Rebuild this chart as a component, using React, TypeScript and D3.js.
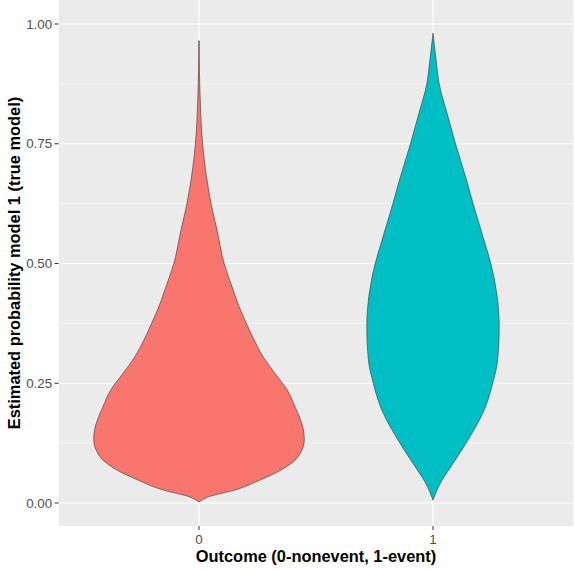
import React from "react";
import * as d3 from "d3";

const categories = ["0", "1"];
const fills = ["#F8766D", "#00BFC4"];

// violin profile for outcome 0: estimated probability value and relative half-width
const redValues = [0.002, 0.0125, 0.027, 0.048, 0.069, 0.09, 0.11, 0.132, 0.155, 0.175, 0.2, 0.236, 0.27, 0.305, 0.34, 0.376, 0.41, 0.445, 0.501, 0.57, 0.62, 0.674, 0.72, 0.779, 0.82, 0.868, 0.9, 0.965];
const redWidths = [0, 0.086, 0.34, 0.58, 0.78, 0.914, 0.976, 1.0, 0.99, 0.962, 0.914, 0.838, 0.724, 0.61, 0.524, 0.448, 0.381, 0.324, 0.238, 0.171, 0.119, 0.076, 0.048, 0.024, 0.015, 0.008, 0.004, 0.002];

// violin profile for outcome 1
const cyanValues = [0.006, 0.042, 0.075, 0.125, 0.194, 0.25, 0.299, 0.368, 0.438, 0.493, 0.555, 0.625, 0.674, 0.75, 0.814, 0.877, 0.918, 0.981];
const cyanWidths = [0, 0.071, 0.167, 0.314, 0.486, 0.567, 0.614, 0.629, 0.605, 0.557, 0.476, 0.381, 0.319, 0.214, 0.133, 0.057, 0.033, 0];

const yTicks = [0, 0.25, 0.5, 0.75, 1.0];
const yMinor = [0.125, 0.375, 0.625, 0.875];

const W = 574;
const H = 569;
const panel = { left: 58.6, right: 573.4, top: 0, bottom: 526 };

export default function App() {
  const x = d3.scaleBand<string>().domain(categories).range([panel.left, panel.right]).paddingInner(0).paddingOuter(0.1);
  const y = d3.scaleLinear().domain([0, 1]).range([503, 24]);
  const step = x.step();
  const wScale = d3.scaleLinear().domain([0, 1]).range([0, 0.45 * step]);

  const series = [
    { cat: categories[0], vals: redValues, ws: redWidths, fill: fills[0] },
    { cat: categories[1], vals: cyanValues, ws: cyanWidths, fill: fills[1] },
  ];

  const tickFont = "'Liberation Sans', Arial, sans-serif";

  return (
    <svg width={W} height={H} style={{ position: "absolute", left: 0, top: 0, background: "#fff" }}>
      <rect x={panel.left} y={panel.top} width={panel.right - panel.left} height={panel.bottom - panel.top} fill="#EBEBEB" />
      {yMinor.map((t) => (
        <line key={"mn" + t} x1={panel.left} x2={panel.right} y1={y(t)} y2={y(t)} stroke="#fff" strokeWidth={0.6} />
      ))}
      {yTicks.map((t) => (
        <line key={"mj" + t} x1={panel.left} x2={panel.right} y1={y(t)} y2={y(t)} stroke="#fff" strokeWidth={1.2} />
      ))}
      {categories.map((c) => {
        const cx = (x(c) as number) + x.bandwidth() / 2;
        return <line key={"vx" + c} x1={cx} x2={cx} y1={panel.top} y2={panel.bottom} stroke="#fff" strokeWidth={1.2} />;
      })}
      {series.map((s) => {
        const cx = (x(s.cat) as number) + x.bandwidth() / 2;
        const pts = s.vals.map((v, i) => ({ v, w: s.ws[i] }));
        const area = d3
          .area<{ v: number; w: number }>()
          .y((d) => y(d.v))
          .x0((d) => cx - wScale(d.w))
          .x1((d) => cx + wScale(d.w))
          .curve(d3.curveMonotoneY);
        return <path key={"v" + s.cat} d={area(pts) || ""} fill={s.fill} stroke="#333" strokeWidth={0.6} />;
      })}
      {/* y axis ticks */}
      {yTicks.map((t) => (
        <g key={"yt" + t}>
          <line x1={panel.left - 4} x2={panel.left} y1={y(t)} y2={y(t)} stroke="#333" strokeWidth={1} />
          <text x={panel.left - 6.5} y={y(t)} dy="0.35em" textAnchor="end" fontFamily={tickFont} fontSize={13.3} fill="#4D4D4D">
            {t.toFixed(2)}
          </text>
        </g>
      ))}
      {/* x axis ticks */}
      {categories.map((c) => {
        const cx = (x(c) as number) + x.bandwidth() / 2;
        return (
          <g key={"xt" + c}>
            <line x1={cx} x2={cx} y1={panel.bottom} y2={panel.bottom + 4} stroke="#333" strokeWidth={1} />
            <text x={cx} y={panel.bottom + 17.5} textAnchor="middle" fontFamily={tickFont} fontSize={13.3} fill="#4D4D4D">
              {c}
            </text>
          </g>
        );
      })}
      <text x={(panel.left + panel.right) / 2} y={562} textAnchor="middle" fontFamily={tickFont} fontWeight="bold" fontSize={16.4} fill="#000">
        Outcome (0-nonevent, 1-event)
      </text>
      <text
        transform={`translate(20, ${(panel.top + panel.bottom) / 2}) rotate(-90)`}
        textAnchor="middle"
        fontFamily={tickFont}
        fontWeight="bold"
        fontSize={16.4}
        fill="#000"
      >
        Estimated probability model 1 (true model)
      </text>
    </svg>
  );
}
